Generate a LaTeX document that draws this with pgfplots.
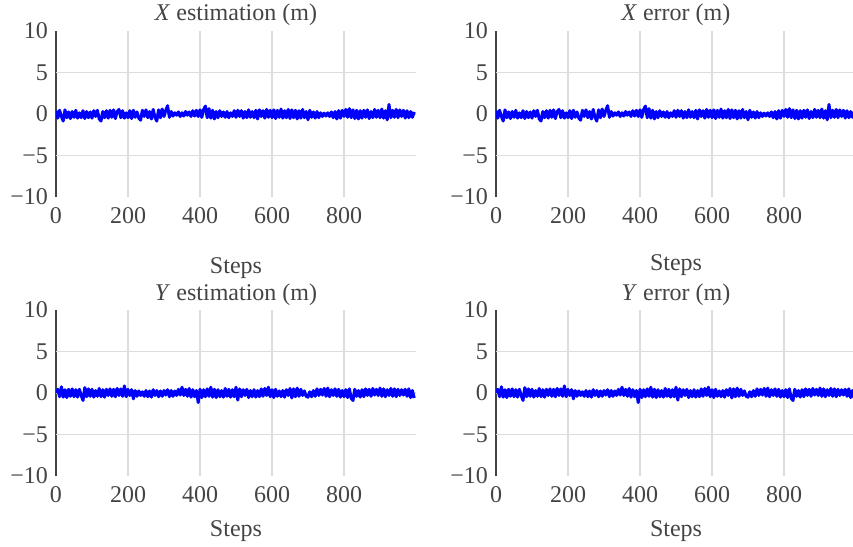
\documentclass[border=0pt]{standalone}
\usepackage{fontspec}
\setmainfont{Liberation Serif}
\usepackage{pgfplots}
\usepackage{pgfplotstable}
\pgfplotsset{compat=1.18}
\definecolor{txt}{HTML}{444444}
\definecolor{grd}{HTML}{DDDDDD}
\newcommand\fs{\fontsize{24}{28}\selectfont}

% steps, X series, Y series (estimation and error panels show the same traces)
\pgfplotstableread[row sep=\\]{
x X Y\\%
0 0.40 0.00\\5 -0.50 0.45\\10 0.45 -0.45\\15 -0.30 0.75\\20 -0.85 -0.50\\25 0.50 0.40\\30 -0.45 -0.55\\35 0.25 0.45\\40 -0.55 -0.40\\45 0.30 0.50\\%
50 -0.40 -0.45\\55 0.45 0.40\\60 -0.50 -0.50\\65 0.15 0.45\\70 -0.45 -0.30\\75 0.40 -0.90\\80 -0.55 0.65\\85 0.30 -0.45\\90 -0.45 0.50\\95 0.25 -0.40\\%
100 -0.50 0.45\\105 0.40 -0.50\\110 -0.30 0.30\\115 0.45 -0.40\\120 -0.60 0.55\\125 -0.85 -0.45\\130 0.30 0.40\\135 -0.45 -0.50\\140 0.40 0.45\\145 -0.50 -0.30\\%
150 0.45 0.50\\155 -0.40 -0.40\\160 0.50 0.45\\165 -0.55 -0.45\\170 0.30 0.55\\175 0.55 -0.30\\180 -0.45 0.50\\185 0.40 -0.40\\190 -0.50 0.85\\195 0.15 -0.45\\%
200 -0.45 0.45\\205 0.40 -0.30\\210 -0.55 0.40\\215 0.45 -0.70\\220 -0.40 0.30\\225 0.25 -0.40\\230 -0.50 0.25\\235 -0.75 -0.30\\240 0.45 0.15\\245 -0.30 -0.40\\%
250 0.50 0.30\\255 -0.45 -0.45\\260 0.30 0.25\\265 -0.60 -0.50\\270 0.55 0.40\\275 -0.40 -0.30\\280 -0.85 0.30\\285 0.50 -0.45\\290 -0.45 0.25\\295 0.60 -0.40\\%
300 -0.30 0.30\\305 0.45 -0.25\\310 1.00 0.40\\315 -0.40 -0.45\\320 0.30 0.30\\325 -0.25 -0.40\\330 0.15 0.25\\335 -0.15 -0.30\\340 0.25 0.45\\345 -0.30 -0.25\\%
350 0.15 0.70\\355 -0.25 -0.30\\360 0.30 0.45\\365 -0.15 -0.40\\370 0.25 0.55\\375 -0.30 -0.50\\380 0.40 0.40\\385 -0.25 -0.45\\390 0.45 0.30\\395 -0.30 -1.15\\%
400 0.50 0.45\\405 -0.40 -0.55\\410 0.55 0.40\\415 0.95 -0.45\\420 -0.45 0.50\\425 0.65 -0.40\\430 -0.50 0.70\\435 0.45 -0.50\\440 -0.60 0.45\\445 0.30 -0.55\\%
450 -0.45 0.40\\455 0.40 -0.45\\460 -0.30 0.30\\465 0.25 -0.50\\470 -0.40 0.55\\475 0.30 -0.40\\480 -0.45 0.45\\485 0.15 -0.50\\490 -0.30 0.40\\495 0.40 -0.45\\%
500 -0.40 0.70\\505 0.45 -0.85\\510 -0.30 0.50\\515 0.40 -0.45\\520 -0.50 0.40\\525 0.30 -0.30\\530 -0.45 0.45\\535 0.50 -0.55\\540 -0.40 0.30\\545 0.30 -0.45\\%
550 -0.45 0.40\\555 0.45 -0.50\\560 -0.60 0.30\\565 0.50 -0.45\\570 -0.30 0.50\\575 0.40 -0.40\\580 -0.50 0.55\\585 0.55 -0.30\\590 -0.40 0.70\\595 0.45 -0.45\\%
600 -0.45 0.40\\605 0.50 -0.55\\610 -0.55 0.45\\615 0.45 -0.40\\620 -0.40 0.25\\625 0.60 -0.45\\630 -0.50 0.30\\635 0.40 -0.50\\640 -0.45 0.40\\645 0.55 -0.30\\%
650 -0.55 0.55\\655 0.50 -0.60\\660 -0.45 0.50\\665 0.45 -0.45\\670 -0.60 0.60\\675 0.40 -0.40\\680 -0.50 0.45\\685 0.55 -0.30\\690 -0.45 0.25\\695 0.30 -0.40\\%
700 -0.70 -0.50\\705 0.45 0.15\\710 -0.40 -0.45\\715 0.25 0.30\\720 -0.50 -0.40\\725 0.30 0.50\\730 -0.45 -0.30\\735 0.15 0.45\\740 -0.30 -0.25\\745 0.10 0.55\\%
750 -0.25 -0.40\\755 0.15 0.60\\760 -0.30 -0.45\\765 0.25 0.40\\770 -0.45 -0.30\\775 0.30 0.50\\780 -0.60 -0.40\\785 0.40 0.45\\790 -0.50 -0.50\\795 0.45 0.30\\%
800 -0.30 -0.45\\805 0.55 0.40\\810 -0.40 -0.55\\815 0.65 0.50\\820 -0.45 -0.65\\825 0.50 -0.90\\830 -0.55 0.45\\835 0.45 -0.40\\840 -0.60 0.30\\845 0.40 -0.50\\%
850 -0.50 0.40\\855 0.45 -0.45\\860 -0.40 0.50\\865 0.50 -0.30\\870 -0.55 0.45\\875 0.30 -0.40\\880 -0.45 0.55\\885 0.55 -0.25\\890 -0.40 0.45\\895 0.45 -0.30\\%
900 -0.45 0.60\\905 0.60 -0.40\\910 -0.50 0.50\\915 0.40 -0.45\\920 -0.70 0.40\\925 1.15 -0.30\\930 -0.45 0.55\\935 0.45 -0.40\\940 -0.40 0.50\\945 0.55 -0.45\\%
950 -0.45 0.45\\955 0.50 -0.30\\960 -0.30 0.40\\965 0.45 -0.25\\970 -0.50 0.45\\975 0.40 -0.40\\980 -0.45 0.50\\985 0.30 -0.55\\990 -0.40 0.30\\995 0.25 -0.60\\%
}\est

\pgfplotsset{panel/.style={
  scale only axis, width=360pt, height=166pt,
  xmin=0, xmax=1000, ymin=-10, ymax=10,
  axis lines*=left, x axis line style={draw=none},
  y axis line style={txt, line width=2pt},
  xtick={0,200,400,600,800}, xticklabels={0,200,400,600,800},
  ytick={-10,-5,0,5,10}, yticklabels={−10,−5,0,5,10},
  major tick length=0pt,
  xmajorgrids, grid style={grd, line width=1.5pt},
  extra y ticks={-5,0,5}, extra y tick labels={}, extra y tick style={grid=major},
  tick label style={font=\fs, text=txt},
  xticklabel style={anchor=north, inner sep=0pt, yshift=-10pt},
  yticklabel style={anchor=east, inner sep=0pt, xshift=-8pt},
  title style={font=\fs, text=txt, at={(0.5,1)}, anchor=base, inner sep=0pt, yshift=4pt},
  xlabel={Steps},
  xlabel style={font=\fs, text=txt, at={(axis description cs:0.5,0)}, anchor=base, inner sep=0pt},
}}

\begin{document}
\begin{tikzpicture}
\path[use as bounding box] (0,0) rectangle (853pt,546pt);

\begin{axis}[panel, at={(56pt,349pt)}, anchor=south west,
  title={\textit{X} estimation (m)}, xlabel style={yshift=-77pt}]
\addplot[blue, line width=3pt, line join=round] table[x=x, y=X]{\est};
\end{axis}

\begin{axis}[panel, at={(496pt,349pt)}, anchor=south west,
  title={\textit{X} error (m)}, xlabel style={yshift=-74pt}]
\addplot[blue, line width=3pt, line join=round] table[x=x, y=X]{\est};
\end{axis}

\begin{axis}[panel, at={(56pt,70pt)}, anchor=south west,
  title={\textit{Y} estimation (m)}, xlabel style={yshift=-60pt}]
\addplot[blue, line width=3pt, line join=round] table[x=x, y=Y]{\est};
\end{axis}

\begin{axis}[panel, at={(496pt,70pt)}, anchor=south west,
  title={\textit{Y} error (m)}, xlabel style={yshift=-60pt}]
\addplot[blue, line width=3pt, line join=round] table[x=x, y=Y]{\est};
\end{axis}
\end{tikzpicture}
\end{document}
